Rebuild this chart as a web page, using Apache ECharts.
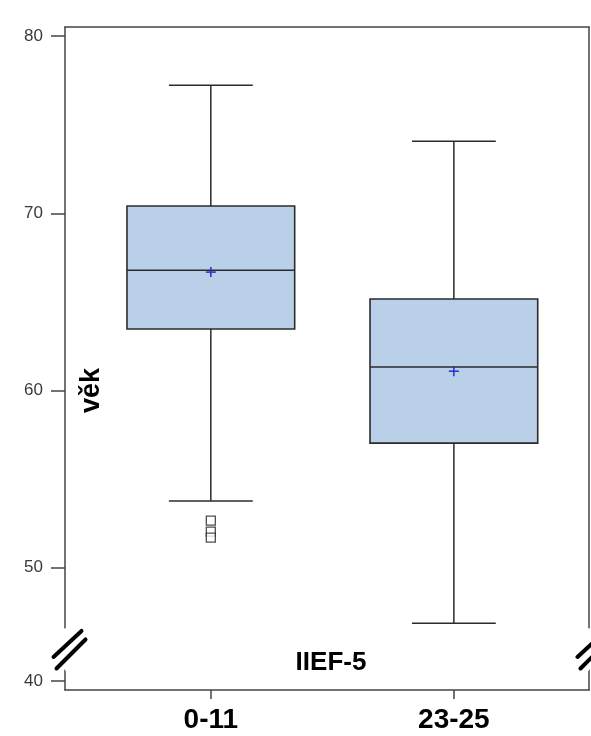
<!DOCTYPE html>
<html><head><meta charset="utf-8">
<script src="https://cdn.jsdelivr.net/npm/echarts@6/dist/echarts.min.js"></script>
<style>html,body{margin:0;padding:0;background:#fff}#c{width:591px;height:736px}</style>
</head><body><div id="c"></div><script>
// ---- data ----
const categories = ['0-11', '23-25'];
const whiskerLow = [53.76, 46.87];
const q1 = [63.47, 57.03];
const median = [66.79, 61.32];
const q3 = [70.41, 65.16];
const whiskerHigh = [77.23, 74.07];
const means = [66.68, 61.09];
const outlierGroup = [0, 0, 0];
const outlierValues = [52.66, 52.04, 51.70];
const yTickValues = [40, 50, 60, 70, 80];
const yAxisTitle = 'věk';
const xAxisTitle = 'IIEF-5';

// ---- style ----
const FONT = '"Liberation Sans", Arial, sans-serif';
const axisColor = '#444';
const boxFill = '#bad0e9';
const boxStroke = '#2b2b2b';
const meanColor = '#2a2ad0';
const boxWidthUnits = 0.69;
const yMin = 39.49, yMax = 80.51;
const yBreaks = [{ start: 40.62, end: 46.6, gap: 2.37 }];
const xMin = 0.4, xMax = 2.556;

const boxData = categories.map((c, i) => [i + 1, whiskerLow[i], q1[i], median[i], q3[i], whiskerHigh[i], means[i]]);
const outlierData = outlierGroup.map((g, i) => [g + 1, outlierValues[i]]);

const breakAreaStyle = {
  show: true,
  itemStyle: { color: '#fff', borderColor: 'rgba(0,0,0,0)', borderWidth: 0, opacity: 1 },
  zigzagAmplitude: 0,
  expandOnClick: false
};

const chart = echarts.init(document.getElementById('c'), null, { renderer: 'canvas' });

const option = {
  animation: false,
  backgroundColor: '#fff',
  grid: { left: 65, top: 27, right: 2, bottom: 46, containLabel: false },
  xAxis: [{
    type: 'value', min: xMin, max: xMax, position: 'bottom',
    axisLine: { show: true, lineStyle: { color: axisColor, width: 1.5 } },
    axisTick: { show: true, length: 9, customValues: categories.map((c, i) => i + 1), lineStyle: { color: axisColor, width: 1.5 } },
    axisLabel: {
      show: true, customValues: categories.map((c, i) => i + 1),
      formatter: v => categories[Math.round(v) - 1] || '',
      fontFamily: FONT, fontWeight: 'bold', fontSize: 28, color: '#000', margin: 16
    },
    splitLine: { show: false }
  }, {
    type: 'value', min: xMin, max: xMax, position: 'top',
    axisLine: { show: true, lineStyle: { color: axisColor, width: 1.5 } },
    axisTick: { show: false }, axisLabel: { show: false }, splitLine: { show: false }
  }],
  yAxis: [{
    type: 'value', min: yMin, max: yMax, position: 'left',
    breaks: yBreaks, breakArea: breakAreaStyle,
    axisLine: { show: true, lineStyle: { color: axisColor, width: 1.5 } },
    axisTick: { show: true, length: 14, customValues: yTickValues, lineStyle: { color: axisColor, width: 1.5 } },
    axisLabel: { show: true, customValues: yTickValues, fontFamily: FONT, fontSize: 17, color: '#3a3a3a', margin: 22 },
    splitLine: { show: false }
  }, {
    type: 'value', min: yMin, max: yMax, position: 'right',
    breaks: yBreaks, breakArea: breakAreaStyle,
    axisLine: { show: true, lineStyle: { color: axisColor, width: 1.5 } },
    axisTick: { show: false }, axisLabel: { show: false }, splitLine: { show: false }
  }],
  series: [{
    type: 'custom',
    xAxisIndex: 0, yAxisIndex: 0,
    clip: false,
    z: 5,
    data: boxData,
    encode: { x: 0, y: [1, 2, 3, 4, 5, 6] },
    renderItem: function (params, api) {
      const x = api.value(0);
      const pLow = api.coord([x, api.value(1)]);
      const pQ1 = api.coord([x, api.value(2)]);
      const pMed = api.coord([x, api.value(3)]);
      const pQ3 = api.coord([x, api.value(4)]);
      const pHigh = api.coord([x, api.value(5)]);
      const pMean = api.coord([x, api.value(6)]);
      const w = api.size([boxWidthUnits, 0])[0];
      const hw = w / 2, cap = w / 4;
      const cx = pQ1[0];
      const ls = { stroke: boxStroke, lineWidth: 1.5 };
      return {
        type: 'group',
        children: [
          { type: 'line', shape: { x1: cx, y1: pQ3[1], x2: cx, y2: pHigh[1] }, style: ls },
          { type: 'line', shape: { x1: cx, y1: pQ1[1], x2: cx, y2: pLow[1] }, style: ls },
          { type: 'line', shape: { x1: cx - cap, y1: pHigh[1], x2: cx + cap, y2: pHigh[1] }, style: ls },
          { type: 'line', shape: { x1: cx - cap, y1: pLow[1], x2: cx + cap, y2: pLow[1] }, style: ls },
          { type: 'rect', shape: { x: cx - hw, y: pQ3[1], width: w, height: pQ1[1] - pQ3[1] }, style: { fill: boxFill, stroke: boxStroke, lineWidth: 1.6 } },
          { type: 'line', shape: { x1: cx - hw, y1: pMed[1], x2: cx + hw, y2: pMed[1] }, style: ls },
          { type: 'line', shape: { x1: pMean[0] - 5, y1: pMean[1], x2: pMean[0] + 5, y2: pMean[1] }, style: { stroke: meanColor, lineWidth: 1.5 } },
          { type: 'line', shape: { x1: pMean[0], y1: pMean[1] - 5, x2: pMean[0], y2: pMean[1] + 5 }, style: { stroke: meanColor, lineWidth: 1.5 } }
        ]
      };
    }
  }, {
    type: 'scatter',
    xAxisIndex: 0, yAxisIndex: 0,
    z: 6,
    symbol: 'rect', symbolSize: [9, 9],
    itemStyle: { color: '#fff', borderColor: '#222', borderWidth: 1.3 },
    data: outlierData
  }]
};
chart.setOption(option);

// decorations: axis titles and break marks, positioned from the axes
const gridLeft = chart.convertToPixel({ xAxisIndex: 0 }, xMin);
const gridRight = chart.convertToPixel({ xAxisIndex: 0 }, xMax);
const yBreakTop = chart.convertToPixel({ yAxisIndex: 0 }, yBreaks[0].end);
const yBreakBot = chart.convertToPixel({ yAxisIndex: 0 }, yBreaks[0].start);
const yc = (yBreakTop + yBreakBot) / 2;
const y60 = chart.convertToPixel({ yAxisIndex: 0 }, 60);
const xMid = (gridLeft + gridRight) / 2;

function breakMarks(ax) {
  const st = { stroke: '#000', lineWidth: 4, lineCap: 'round' };
  return [
    { type: 'line', z: 100, shape: { x1: ax - 11.5, y1: yc + 8, x2: ax + 16.5, y2: yc - 18 }, style: st },
    { type: 'line', z: 100, shape: { x1: ax - 8.5, y1: yc + 19.5, x2: ax + 20.5, y2: yc - 9.5 }, style: st }
  ];
}

chart.setOption({
  graphic: [
    ...breakMarks(gridLeft),
    ...breakMarks(gridRight),
    { type: 'text', z: 100, x: 92, y: y60, rotation: Math.PI / 2,
      style: { text: yAxisTitle, fontFamily: FONT, fontWeight: 'bold', fontSize: 27, fill: '#000', align: 'center', verticalAlign: 'middle' } },
    { type: 'text', z: 100, x: xMid + 4, y: yc + 14,
      style: { text: xAxisTitle, fontFamily: FONT, fontWeight: 'bold', fontSize: 26, fill: '#000', align: 'center', verticalAlign: 'middle' } }
  ]
});
</script></body></html>
